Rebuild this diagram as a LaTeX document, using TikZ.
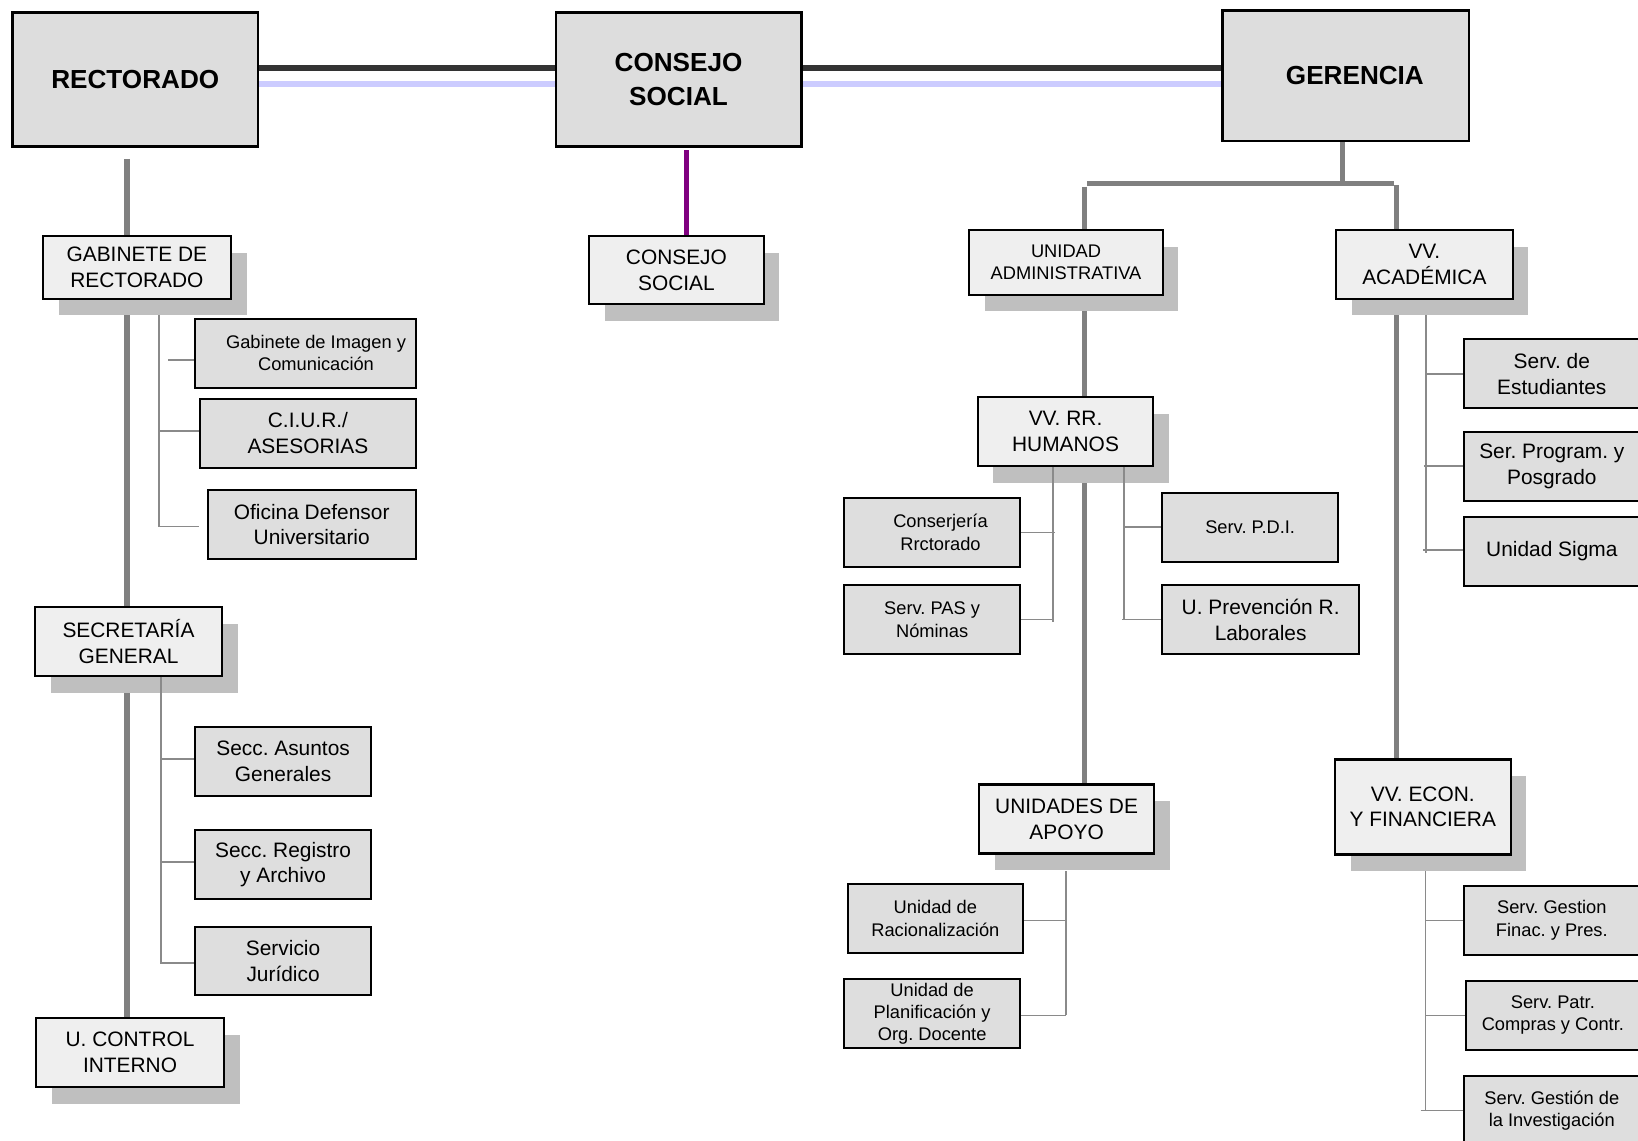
\documentclass[tikz,border=0pt]{standalone}
\usepackage{fontspec}
\setmainfont{Liberation Sans}
\usetikzlibrary{shadows,backgrounds}
\frenchspacing

\definecolor{topfill}{HTML}{DDDDDD}
\definecolor{midfill}{HTML}{EFEFEF}
\definecolor{leaffill}{HTML}{DEDEDE}
\definecolor{shade}{HTML}{BFBFBF}
\definecolor{trunkgray}{HTML}{808080}
\definecolor{twiggray}{HTML}{8A8A8A}
\definecolor{darkline}{HTML}{333333}
\definecolor{lavender}{HTML}{CCCCFF}
\definecolor{plum}{HTML}{800080}

\begin{document}
\begin{tikzpicture}[x=1pt,y=-1pt,
  dim/.style 2 args={minimum width=#1pt, minimum height=#2pt},
  boxbase/.style={draw=black, inner sep=0pt, align=center},
  head/.style={boxbase, line width=2.4pt, fill=topfill,
    font=\fontsize{25}{32}\selectfont\bfseries},
  unit/.style={boxbase, line width=2pt, fill=midfill,
    font=\fontsize{20}{24.5}\selectfont,
    drop shadow={shadow xshift=15pt, shadow yshift=-16pt, fill=shade, opacity=1, draw=none}},
  office/.style={boxbase, line width=1.8pt, fill=leaffill,
    font=\fontsize{20}{24.5}\selectfont},
  smalltext/.style={font=\fontsize{17.5}{21.5}\selectfont},
  darklink/.style={draw=darkline, line width=6pt},
  lavlink/.style={draw=lavender, line width=5pt},
  plumlink/.style={draw=plum, line width=5pt},
  trunk/.style={draw=trunkgray, line width=5pt},
  twig/.style={draw=twiggray, line width=1.6pt}
]
\useasboundingbox (0,0) rectangle (1568,1092);

% governing bodies
\node[head, dim={235}{128}] (rect) at (129.5,76) {RECTORADO};
\node[head, dim={235}{128}] (cs)   at (649.5,76) {CONSEJO\\SOCIAL};
\node[head, dim={236}{125}] (ger)  at (1288,72.5) {\hspace*{18pt}GERENCIA};

% second level units
\node[unit, dim={180}{60}]  (gab) at (131,256)    {GABINETE DE\\RECTORADO};
\node[unit, dim={179}{66}]  (sec) at (123,614)    {SECRETARÍA\\GENERAL};
\node[unit, dim={180}{66}]  (uci) at (124.5,1007.5) {U. CONTROL\\INTERNO};
\node[unit, dim={167}{65}]  (cs2) at (647.5,258.5) {CONSEJO\\SOCIAL};
\node[unit, smalltext, dim={185}{62}] (ua) at (1020.5,251) {UNIDAD\\ADMINISTRATIVA};
\node[unit, dim={169}{66}]  (vva) at (1363.5,253) {VV.\\ACADÉMICA};
\node[unit, dim={168}{66}]  (hum) at (1020,413)   {VV. RR.\\HUMANOS};
\node[unit, dim={168}{66}]  (uda) at (1021,784)   {UNIDADES DE\\APOYO};
\node[unit, dim={168}{91}]  (vve) at (1362,772.5) {VV. ECON.\\Y FINANCIERA};

% services and offices
\node[office, smalltext, dim={211}{66}] (gim) at (292.5,338)
  {\hspace*{20pt}Gabinete de Imagen y\\\hspace*{20pt}Comunicación};
\node[office, dim={206.5}{66}] (ciur) at (294.75,414.6) {C.I.U.R./\\ASESORIAS};
\node[office, dim={199}{66}]   (ofi)  at (298.4,502)   {Oficina Defensor\\Universitario};
\node[office, dim={168}{66}]   (sag)  at (271,729)     {Secc. Asuntos\\Generales};
\node[office, dim={168}{66}]   (sra)  at (271,827.5)   {Secc. Registro\\y Archivo};
\node[office, dim={168}{65}]   (sju)  at (271,920)     {Servicio\\Jurídico};
\node[office, smalltext, dim={168.5}{66}] (con) at (892.3,509.7)
  {\hspace*{16pt}Conserjería\\\hspace*{16pt}Rrctorado};
\node[office, smalltext, dim={168.5}{66}] (pas) at (892.3,593) {Serv. PAS y\\Nóminas};
\node[office, smalltext, dim={168.5}{66}] (pdi) at (1196.7,505) {Serv. P.D.I.};
\node[office, dim={188.5}{66}] (upr) at (1206.75,593.3) {U. Prevención R.\\Laborales};
\node[office, dim={169}{66}]   (est)  at (1485.5,357.8) {Serv. de\\Estudiantes};
\node[office, dim={169}{66}]   (prog) at (1485.5,446.6) {Ser. Program. y\\Posgrado};
\node[office, dim={169}{66}]   (sig)  at (1485.5,528)   {Unidad Sigma};
\node[office, smalltext, dim={168}{66}] (rac) at (895.4,879) {Unidad de\\Racionalización};
\node[office, smalltext, dim={168}{66}] (pla) at (892.3,970.4)
  {Unidad de\\Planificación y\\Org. Docente};
\node[office, smalltext, dim={169}{66}] (fin) at (1485.5,881) {Serv. Gestion\\Finac. y Pres.};
\node[office, smalltext, dim={167}{66}] (pat) at (1486.5,971.8) {Serv. Patr.\\Compras y Contr.};
\node[office, smalltext, dim={169}{66}] (inv) at (1485.5,1063) {Serv. Gestión de\\la Investigación};

% main links, behind the boxes and their shadows
\begin{scope}[on background layer]
  \fill[white] (0,0) rectangle (1568,1092);
  \draw[darklink] (rect.east |- 0,65) -- (cs.west |- 0,65);
  \draw[darklink] (cs.east |- 0,65) -- (ger.west |- 0,65);
  \draw[lavlink] (rect.east |- 0,80.5) -- (cs.west |- 0,80.5);
  \draw[lavlink] (cs.east |- 0,80.5) -- (ger.west |- 0,80.5);
  \draw[plumlink] (657,144) -- (657,144 |- cs2.north);
  \draw[trunk] (121.5,152) -- (121.5,152 |- uci.north);
  \draw[trunk] (ger.south -| 1285,0) -- (1285,175.5);
  \draw[trunk] (1040.5,175.5) -- (1334.5,175.5);
  \draw[trunk] (1038,179) -- (1038,179 |- ua.north);
  \draw[trunk] (1337,177) -- (1337,177 |- vva.north);
  \draw[trunk] (ua.south -| 1038,0) -- (1038,0 |- uda.north);
  \draw[trunk] (vva.south -| 1337,0) -- (1337,0 |- vve.north);
\end{scope}

% branch lines to the services
\draw[twig] (152.5,302) -- (152.5,504) -- (190.5,504);
\draw[twig] (161,344.6) -- (gim.west |- 0,344.6);
\draw[twig] (152.5,412.6) -- (ciur.west |- 0,412.6);

\draw[twig] (154,0 |- sec.south) -- (154,921.6) -- (sju.west |- 0,921.6);
\draw[twig] (154,726.3) -- (sag.west |- 0,726.3);
\draw[twig] (154,825.2) -- (sra.west |- 0,825.2);

\draw[twig] (1007.7,0 |- hum.south) -- (1007.7,595);
\draw[twig] (con.east |- 0,509.6) -- (1010,509.6);
\draw[twig] (pas.east |- 0,593) -- (1007.7,593);
\draw[twig] (1076,0 |- hum.south) -- (1076,593);
\draw[twig] (1076,504.5) -- (pdi.west |- 0,504.5);
\draw[twig] (1074.4,593) -- (upr.west |- 0,593);

\draw[twig] (1365,301.6) -- (1365,529.7);
\draw[twig] (1365,358.3) -- (est.west |- 0,358.3);
\draw[twig] (1363,446.1) -- (prog.west |- 0,446.1);
\draw[twig] (1362,526.8) -- (sig.west |- 0,526.8);

\draw[twig] (1020.5,833.8) -- (1020.5,972);
\draw[twig] (rac.east |- 0,881) -- (1020.5,881);
\draw[twig] (pla.east |- 0,972) -- (1020.5,972);

\draw[twig] (1364.5,834) -- (1364.5,1063);
\draw[twig] (1364.5,881) -- (fin.west |- 0,881);
\draw[twig] (1364.5,972) -- (pat.west |- 0,972);
\draw[twig] (1360,1063) -- (inv.west |- 0,1063);
\end{tikzpicture}
\end{document}
